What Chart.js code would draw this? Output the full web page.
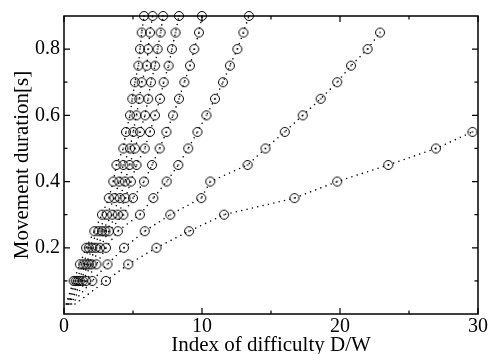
<!DOCTYPE html>
<html>
<head>
<meta charset="utf-8">
<script src="https://cdn.jsdelivr.net/npm/chart.js@4/dist/chart.umd.min.js"></script>
<style>
  html, body { margin: 0; padding: 0; background: #fff; }
  #c { display: block; }
</style>
</head>
<body>
<canvas id="c" width="499" height="354"></canvas>
<script>
// Movement duration levels (s) at which each curve was sampled
const durations = [0.10, 0.15, 0.20, 0.25, 0.30, 0.35, 0.40, 0.45, 0.50,
                   0.55, 0.60, 0.65, 0.70, 0.75, 0.80, 0.85, 0.90];

// Index of difficulty reached at each duration, one list per curve
const curveA = [3.04, 4.66, 6.70, 9.06, 11.6, 16.7, 19.8, 23.5, 26.95, 29.6];
const curveB = [2.05, 3.15, 4.35, 5.85, 7.70, 9.95, 10.6, 13.3, 14.6, 16.0, 17.3, 18.6, 19.8, 20.8, 22.0, 22.9];
const curveC = [1.60, 2.35, 3.04, 3.90, 5.50, 6.47, 7.44, 8.28, 9.00, 9.67, 10.32, 10.94, 11.52, 12.02, 12.56, 13.0, 13.4];
const curveD = [1.35, 2.00, 2.60, 3.25, 4.30, 5.00, 5.80, 6.38, 6.93, 7.42, 7.90, 8.33, 8.72, 9.13, 9.44, 9.78, 10.0];
const curveE = [1.15, 1.80, 2.30, 3.00, 3.90, 4.45, 4.85, 5.25, 5.85, 6.23, 6.59, 6.96, 7.22, 7.58, 7.82, 8.08, 8.33];
const curveF = [1.00, 1.60, 2.05, 2.75, 3.50, 4.05, 4.42, 4.75, 5.14, 5.51, 5.87, 6.10, 6.30, 6.60, 6.78, 7.00, 7.18];
const curveG = [0.85, 1.40, 1.80, 2.50, 3.10, 3.65, 4.00, 4.30, 4.78, 5.02, 5.25, 5.46, 5.63, 6.00, 6.10, 6.23, 6.42];
const curveH = [0.70, 1.15, 1.60, 2.20, 2.75, 3.25, 3.57, 3.80, 4.30, 4.49, 4.78, 4.95, 5.14, 5.39, 5.51, 5.63, 5.80];

// Each dotted curve starts near the origin (no marker there)
const startDuration = 0.03;
const startIndex = [0.80, 0.55, 0.45, 0.35, 0.30, 0.25, 0.20, 0.15];

const curves = [curveA, curveB, curveC, curveD, curveE, curveF, curveG, curveH];

// Axis ticks
const xTicks = [0, 10, 20, 30];
const xMinorTicks = [5, 15, 25];
const yTicks = [0.2, 0.4, 0.6, 0.8];
const yMinorTicks = [0.1, 0.3, 0.5, 0.7];

const xTitle = 'Index of difficulty D/W';
const yTitle = 'Movement duration[s]';

// Open circle with a centre dot
function ringMarker() {
  const c = document.createElement('canvas');
  c.width = 12; c.height = 12;
  const g = c.getContext('2d');
  g.strokeStyle = '#000';
  g.lineWidth = 1;
  g.beginPath();
  g.arc(6, 6, 4.5, 0, Math.PI * 2);
  g.stroke();
  g.fillStyle = '#000';
  g.fillRect(5.3, 5.3, 1.4, 1.4);
  return c;
}
const marker = ringMarker();

const datasets = curves.map((vals, i) => ({
  data: [{ x: startIndex[i], y: startDuration }]
    .concat(vals.map((v, k) => ({ x: v, y: durations[k] }))),
  showLine: true,
  borderColor: '#000',
  borderWidth: 1.6,
  borderDash: [0, 5.5],
  borderCapStyle: 'round',
  pointStyle: marker,
  pointRadius: ctx => (ctx.dataIndex === 0 ? 0 : 4.5),
  pointHoverRadius: ctx => (ctx.dataIndex === 0 ? 0 : 4.5),
  clip: false,
  tension: 0
}));

const serif = '"Liberation Serif", "Times New Roman", serif';

// Frame, inward ticks on all four sides, and axis titles
const framePlugin = {
  id: 'frame',
  afterDraw(chart) {
    const { ctx, chartArea: a, scales: { x, y } } = chart;
    ctx.save();
    ctx.strokeStyle = '#000';
    ctx.lineWidth = 1.5;
    ctx.strokeRect(a.left, a.top, a.right - a.left, a.bottom - a.top);

    ctx.lineWidth = 1.2;
    ctx.beginPath();
    const xt = (v, len) => {
      const p = x.getPixelForValue(v);
      ctx.moveTo(p, a.bottom); ctx.lineTo(p, a.bottom - len);
      ctx.moveTo(p, a.top); ctx.lineTo(p, a.top + len);
    };
    const yt = (v, len) => {
      const p = y.getPixelForValue(v);
      ctx.moveTo(a.left, p); ctx.lineTo(a.left + len, p);
      ctx.moveTo(a.right, p); ctx.lineTo(a.right - len, p);
    };
    xTicks.forEach(v => xt(v, 6));
    xMinorTicks.forEach(v => xt(v, 3.5));
    yTicks.forEach(v => yt(v, 6));
    yMinorTicks.forEach(v => yt(v, 3.5));
    ctx.stroke();

    ctx.fillStyle = '#000';
    ctx.font = '21px ' + serif;
    ctx.textAlign = 'center';
    ctx.textBaseline = 'alphabetic';
    ctx.fillText(xTitle, (a.left + a.right) / 2, 351);

    ctx.translate(28, (a.top + a.bottom) / 2);
    ctx.rotate(-Math.PI / 2);
    ctx.fillText(yTitle, 0, 0);
    ctx.restore();
  }
};

new Chart(document.getElementById('c'), {
  type: 'scatter',
  data: { datasets },
  options: {
    responsive: false,
    animation: false,
    devicePixelRatio: 1,
    layout: { padding: { top: 9, right: 21, left: 0, bottom: 0 } },
    plugins: { legend: { display: false }, tooltip: { enabled: false } },
    scales: {
      x: {
        type: 'linear',
        min: 0, max: 30,
        afterBuildTicks: s => { s.ticks = xTicks.map(v => ({ value: v })); },
        afterFit: s => { s.height = 40; },
        grid: { display: false, drawTicks: false },
        border: { display: false },
        ticks: {
          color: '#000', padding: 1, maxRotation: 0, autoSkip: false,
          font: { family: serif, size: 20 }
        }
      },
      y: {
        type: 'linear',
        min: 0, max: 0.9,
        afterBuildTicks: s => { s.ticks = yTicks.map(v => ({ value: v })); },
        afterFit: s => { s.width = 64; },
        grid: { display: false, drawTicks: false },
        border: { display: false },
        ticks: {
          color: '#000', padding: 4, autoSkip: false,
          font: { family: serif, size: 20 },
          callback: v => v.toFixed(1)
        }
      }
    }
  },
  plugins: [framePlugin]
});
</script>
</body>
</html>
